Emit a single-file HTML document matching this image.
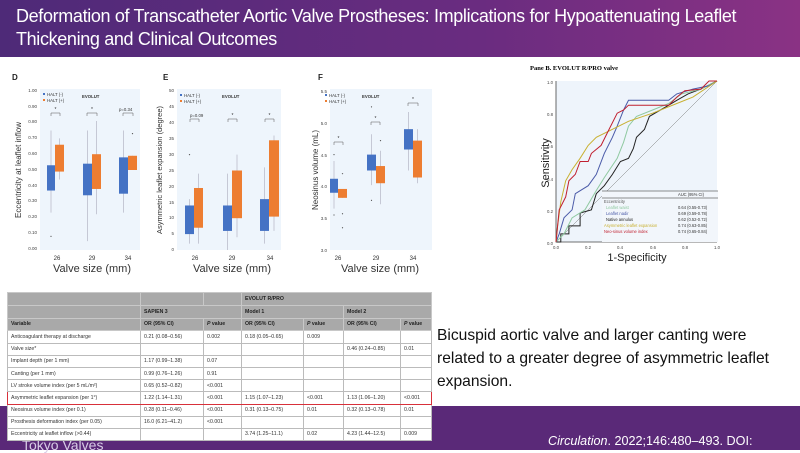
<!DOCTYPE html>
<html><head><meta charset="utf-8"><style>
body{margin:0;width:800px;height:450px;overflow:hidden;background:#fff;font-family:"Liberation Sans",sans-serif;position:relative}
.hdr{position:absolute;left:0;top:0;width:800px;height:57px;background:linear-gradient(90deg,#4e2a78,#6a2c80 60%,#8a3284);}
.hdr div{position:absolute;left:16px;top:5px;color:#fff;font-size:18px;line-height:23px;width:790px;letter-spacing:-0.35px}
.ftr{position:absolute;left:0;top:406px;width:800px;height:44px;background:#5a2978}
.ftr .c{position:absolute;left:548px;top:28px;color:#fff;font-size:12.6px}
.ftr .t{position:absolute;left:22px;top:31px;color:#d8cce6;font-size:14px}
.side{position:absolute;left:437px;top:324px;font-size:15.6px;line-height:23px;color:#111;width:355px}
table{position:absolute;left:7px;top:292px;width:424px;border-collapse:collapse;background:#fff;font-size:5.2px;color:#333;table-layout:fixed}
td{border:1px solid #bbb;padding:0 3px;height:11.2px;white-space:nowrap;overflow:hidden}
tr.h td{background:#a9a9a9;color:#222;font-weight:bold;height:11.8px;border-color:#c8c8c8}
tr.hi td{border-top:1.5px solid #d8303a;border-bottom:1.5px solid #d8303a}
</style></head><body>
<div class="hdr"><div>Deformation of Transcatheter Aortic Valve Prostheses: Implications for Hypoattenuating Leaflet Thickening and Clinical Outcomes</div></div>
<div class="ftr"><span class="t">Tokyo Valves</span><span class="c"><i>Circulation</i>. 2022;146:480–493. DOI:</span></div>
<div class="side">Bicuspid aortic valve and larger canting were related to a greater degree of asymmetric leaflet expansion.</div>

<svg id="s" width="800" height="450" style="position:absolute;left:0;top:0" font-family="Liberation Sans, sans-serif">
<g font-size="8" font-weight="bold" fill="#222"><text x="12" y="80">D</text><text x="163" y="80">E</text><text x="318" y="80">F</text></g>
<rect x="40" y="89" width="100" height="161" fill="#eef5fc"/>
<rect x="177" y="89" width="104" height="161" fill="#eef5fc"/>
<rect x="330" y="89" width="102" height="161" fill="#eef5fc"/>
<g font-size="4.5" fill="#444" text-anchor="end">
<text x="37" y="92">1.00</text><text x="37" y="108">0.90</text><text x="37" y="123">0.80</text><text x="37" y="139">0.70</text><text x="37" y="155">0.60</text><text x="37" y="171">0.50</text><text x="37" y="187">0.40</text><text x="37" y="202">0.30</text><text x="37" y="218">0.20</text><text x="37" y="234">0.10</text><text x="37" y="250">0.00</text>
<text x="174" y="92">50</text><text x="174" y="108">45</text><text x="174" y="124">40</text><text x="174" y="140">35</text><text x="174" y="156">30</text><text x="174" y="172">25</text><text x="174" y="188">20</text><text x="174" y="204">15</text><text x="174" y="219">10</text><text x="174" y="235">5</text><text x="174" y="251">0</text>
<text x="327" y="93">5.5</text><text x="327" y="125">5.0</text><text x="327" y="157">4.5</text><text x="327" y="188">4.0</text><text x="327" y="220">3.5</text><text x="327" y="252">3.0</text>
</g>
<g font-size="6" fill="#333" text-anchor="middle">
<text x="57" y="260">26</text><text x="92" y="260">29</text><text x="128" y="260">34</text>
<text x="195" y="260">26</text><text x="232" y="260">29</text><text x="270" y="260">34</text>
<text x="338" y="260">26</text><text x="376" y="260">29</text><text x="413" y="260">34</text>
</g>
<g font-size="11" fill="#333" text-anchor="middle">
<text x="92" y="272">Valve size (mm)</text><text x="232" y="272">Valve size (mm)</text><text x="380" y="272">Valve size (mm)</text>
</g>
<g font-size="8" fill="#333" text-anchor="middle">
<text transform="translate(21,170) rotate(-90)">Eccentricity at leaflet inflow</text>
<text transform="translate(162,170) rotate(-90)" font-size="7.5">Asymmetric leaflet expansion (degree)</text>
<text transform="translate(318,170) rotate(-90)">Neosinus volume (mL)</text>
</g>
<g font-size="4.3" fill="#333">
<rect x="43" y="93" width="2" height="2" fill="#4472c4"/><text x="47" y="96">HALT (-)</text>
<rect x="43" y="99" width="2" height="2" fill="#ed7d31"/><text x="47" y="102">HALT (+)</text><text x="82" y="98" font-weight="bold">EVOLUT</text>
<rect x="180" y="94" width="2" height="2" fill="#4472c4"/><text x="184" y="97">HALT (-)</text>
<rect x="180" y="100" width="2" height="2" fill="#ed7d31"/><text x="184" y="103">HALT (+)</text><text x="222" y="98" font-weight="bold">EVOLUT</text>
<rect x="325" y="94" width="2" height="2" fill="#4472c4"/><text x="329" y="97">HALT (-)</text>
<rect x="325" y="100" width="2" height="2" fill="#ed7d31"/><text x="329" y="103">HALT (+)</text><text x="362" y="98" font-weight="bold">EVOLUT</text>
<text x="119" y="111">p=0.34</text><text x="190" y="117">p=0.09</text>
</g>
<g id="boxes"></g>
<text x="530" y="70" font-size="6.5" font-weight="bold" font-family="Liberation Serif, serif">Pane B. EVOLUT R/PRO valve</text>
<rect x="556" y="81" width="161" height="161" fill="#eef4fb"/>
<line x1="556" y1="242" x2="717" y2="81" stroke="#777" stroke-width="0.5"/>
<polyline fill="none" stroke="#444" stroke-width="0.8" points="556,81 556,242 717,242"/>
<g font-size="4.3" fill="#444" text-anchor="end">
<text x="553" y="84">1.0</text><text x="553" y="116">0.8</text><text x="553" y="148">0.6</text><text x="553" y="181">0.4</text><text x="553" y="213">0.2</text><text x="553" y="245">0.0</text></g>
<g font-size="4.3" fill="#444" text-anchor="middle">
<text x="556" y="249">0.0</text><text x="588" y="249">0.2</text><text x="620" y="249">0.4</text><text x="653" y="249">0.6</text><text x="685" y="249">0.8</text><text x="717" y="249">1.0</text></g>
<text x="637" y="261" font-size="11" text-anchor="middle" fill="#222">1-Specificity</text>
<text transform="translate(549,163) rotate(-90)" font-size="11" text-anchor="middle" fill="#222">Sensitivity</text>
<g id="roc"></g>
<rect x="602" y="191" width="116" height="51" fill="#f2f6fb"/>
<line x1="602" y1="191" x2="718" y2="191" stroke="#222" stroke-width="0.6"/>
<line x1="602" y1="198" x2="718" y2="198" stroke="#222" stroke-width="0.6"/>
<g font-size="4.1">
<text x="678" y="196" fill="#333">AUC (95% CI)</text>
<text x="604" y="203" fill="#555">Eccentricity</text>
<text x="606" y="209" fill="#8fc9a0">Leaflet waist</text><text x="678" y="209" fill="#333">0.64 (0.55-0.73)</text>
<text x="606" y="215" fill="#4a5aa8">Leaflet nadir</text><text x="678" y="215" fill="#333">0.69 (0.59-0.78)</text>
<text x="606" y="221" fill="#222">Native annulus</text><text x="678" y="221" fill="#333">0.62 (0.52-0.72)</text>
<text x="604" y="227" fill="#c8b030">Asymmetric leaflet expansion</text><text x="678" y="227" fill="#333">0.74 (0.63-0.85)</text>
<text x="604" y="233" fill="#c02030">Neo-sinus volume index</text><text x="678" y="233" fill="#333">0.74 (0.65-0.84)</text>
</g>
</svg>

<table>
<colgroup><col style="width:133px"><col style="width:63px"><col style="width:38px"><col style="width:62px"><col style="width:40px"><col style="width:57px"><col style="width:31px"></colgroup>
<tr class="h"><td></td><td></td><td></td><td colspan="4">EVOLUT R/PRO</td></tr>
<tr class="h"><td></td><td colspan="2">SAPIEN 3</td><td colspan="2">Model 1</td><td colspan="2">Model 2</td></tr>
<tr class="h"><td>Variable</td><td>OR (95% CI)</td><td><i>P</i> value</td><td>OR (95% CI)</td><td><i>P</i> value</td><td>OR (95% CI)</td><td><i>P</i> value</td></tr>
<tr><td>Anticoagulant therapy at discharge</td><td>0.21 (0.08–0.56)</td><td>0.002</td><td>0.18 (0.05–0.65)</td><td>0.009</td><td></td><td></td></tr>
<tr><td>Valve size*</td><td></td><td></td><td></td><td></td><td>0.46 (0.24–0.85)</td><td>0.01</td></tr>
<tr><td>Implant depth (per 1 mm)</td><td>1.17 (0.99–1.38)</td><td>0.07</td><td></td><td></td><td></td><td></td></tr>
<tr><td>Canting (per 1 mm)</td><td>0.99 (0.76–1.26)</td><td>0.91</td><td></td><td></td><td></td><td></td></tr>
<tr><td>LV stroke volume index (per 5 mL/m²)</td><td>0.65 (0.52–0.82)</td><td>&lt;0.001</td><td></td><td></td><td></td><td></td></tr>
<tr class="hi"><td style="border-left:1.5px solid #d8303a">Asymmetric leaflet expansion (per 1°)</td><td>1.22 (1.14–1.31)</td><td>&lt;0.001</td><td>1.15 (1.07–1.23)</td><td>&lt;0.001</td><td>1.13 (1.06–1.20)</td><td style="border-right:1.5px solid #d8303a">&lt;0.001</td></tr>
<tr><td>Neosinus volume index (per 0.1)</td><td>0.28 (0.11–0.46)</td><td>&lt;0.001</td><td>0.31 (0.13–0.75)</td><td>0.01</td><td>0.32 (0.13–0.78)</td><td>0.01</td></tr>
<tr><td>Prosthesis deformation index (per 0.05)</td><td>16.0 (6.21–41.2)</td><td>&lt;0.001</td><td></td><td></td><td></td><td></td></tr>
<tr><td>Eccentricity at leaflet inflow (&gt;0.44)</td><td></td><td></td><td>3.74 (1.25–11.1)</td><td>0.02</td><td>4.23 (1.44–12.5)</td><td>0.009</td></tr>
</table>

<script>
var B="#4472c4",O="#ed7d31",out="";
function box(x,w,q1,q3,lo,hi,c,pts){
 var xc=x+w/2;
 out+='<line x1="'+xc+'" x2="'+xc+'" y1="'+hi+'" y2="'+lo+'" stroke="#aab" stroke-width="0.6"/>';
 out+='<rect x="'+x+'" y="'+q3+'" width="'+w+'" height="'+(q1-q3)+'" fill="'+c+'"/>';
 (pts||[]).forEach(function(p){out+='<circle cx="'+xc+'" cy="'+p+'" r="0.6" fill="#555"/>';});
}
function D(v){return 249-v*158} function E(v){return 250-v*3.18} function F(v){return 250-(v-3)*63.6}
box(47,8,D(.37),D(.53),D(.23),D(.75),B,[D(.08)]);box(55,9,D(.49),D(.66),D(.44),D(.70),O);
box(83,9,D(.34),D(.54),D(.05),D(.75),B);box(92,9,D(.38),D(.60),D(.22),D(.81),O);
box(119,9,D(.35),D(.58),D(.23),D(.75),B);box(128,9,D(.50),D(.59),D(.50),D(.59),O,[D(.73)]);
box(185,9,E(5),E(14),E(2),E(16),B,[E(30)]);box(194,9,E(7),E(19.5),E(2),E(24),O);
box(223,9,E(6),E(14),E(0),E(24),B);box(232,10,E(10),E(25),E(4),E(30),O);
box(260,9,E(6),E(16),E(2),E(26),B);box(269,10,E(10.5),E(34.5),E(6),E(36),O);
box(330,8,F(3.9),F(4.12),F(3.65),F(4.4),B,[F(4.5),F(3.55)]);box(338,9,F(3.82),F(3.96),F(3.82),F(3.96),O,[F(4.2),F(3.57),F(3.35)]);
box(367,9,F(4.25),F(4.5),F(4.02),F(4.82),B,[F(5.25),F(3.78)]);box(376,9,F(4.05),F(4.32),F(3.72),F(4.56),O,[F(4.72)]);
box(404,9,F(4.58),F(4.9),F(4.25),F(5.17),B);box(413,9,F(4.14),F(4.72),F(4.05),F(4.9),O);
function br(x1,x2,y,t){out+='<polyline fill="none" stroke="#555" stroke-width="0.5" points="'+x1+','+(y+3)+' '+x1+','+y+' '+x2+','+y+' '+x2+','+(y+3)+'"/>';if(t)out+='<text x="'+(x1+x2)/2+'" y="'+(y-2)+'" font-size="5" text-anchor="middle" fill="#333">*</text>';}
br(51,60,113,1);br(87,97,113,1);br(123,133,113,0);br(190,199,119,0);br(228,237,119,1);br(265,274,119,1);br(334,343,142,1);br(371,380,122,1);br(408,418,103,1);
document.getElementById("boxes").innerHTML=out;
function P(pts){return pts.map(function(p){return (556+p[0]*161).toFixed(1)+","+(242-p[1]*161).toFixed(1)}).join(" ")}
var roc=[
["#222",[[0,0],[.03,0],[.03,.05],[.08,.05],[.08,.1],[.15,.1],[.15,.18],[.22,.2],[.25,.3],[.3,.35],[.35,.42],[.4,.5],[.45,.52],[.48,.58],[.5,.65],[.55,.7],[.58,.78],[.7,.85],[.75,.88],[.82,.92],[.9,.95],[1,1]]],
["#8fc9a0",[[0,0],[.05,.05],[.1,.15],[.18,.2],[.25,.32],[.3,.4],[.38,.52],[.42,.62],[.45,.72],[.5,.78],[.6,.82],[.7,.86],[.78,.92],[.9,.95],[1,1]]],
["#4a5aa8",[[0,0],[.02,.05],[.05,.15],[.1,.2],[.12,.3],[.2,.35],[.25,.42],[.3,.55],[.35,.65],[.38,.72],[.42,.82],[.45,.88],[.55,.88],[.7,.88],[.75,.92],[.85,.95],[.95,.97],[1,1]]],
["#c8b030",[[0,0],[.01,.1],[.03,.25],[.06,.38],[.1,.45],[.15,.52],[.2,.6],[.25,.65],[.35,.7],[.45,.75],[.6,.8],[.75,.86],[.85,.9],[1,1]]],
["#c02030",[[0,0],[.02,.2],[.06,.28],[.08,.38],[.12,.42],[.15,.5],[.2,.5],[.22,.55],[.28,.6],[.32,.68],[.34,.72],[.38,.8],[.42,.82],[.45,.85],[.55,.85],[.7,.85],[.75,.9],[.8,.94],[.9,.95],[.95,1],[1,1]]]];
var r="";roc.forEach(function(c){r+='<polyline fill="none" stroke="'+c[0]+'" stroke-width="1" points="'+P(c[1])+'"/>'});
document.getElementById("roc").innerHTML=r;
</script>
</body></html>
